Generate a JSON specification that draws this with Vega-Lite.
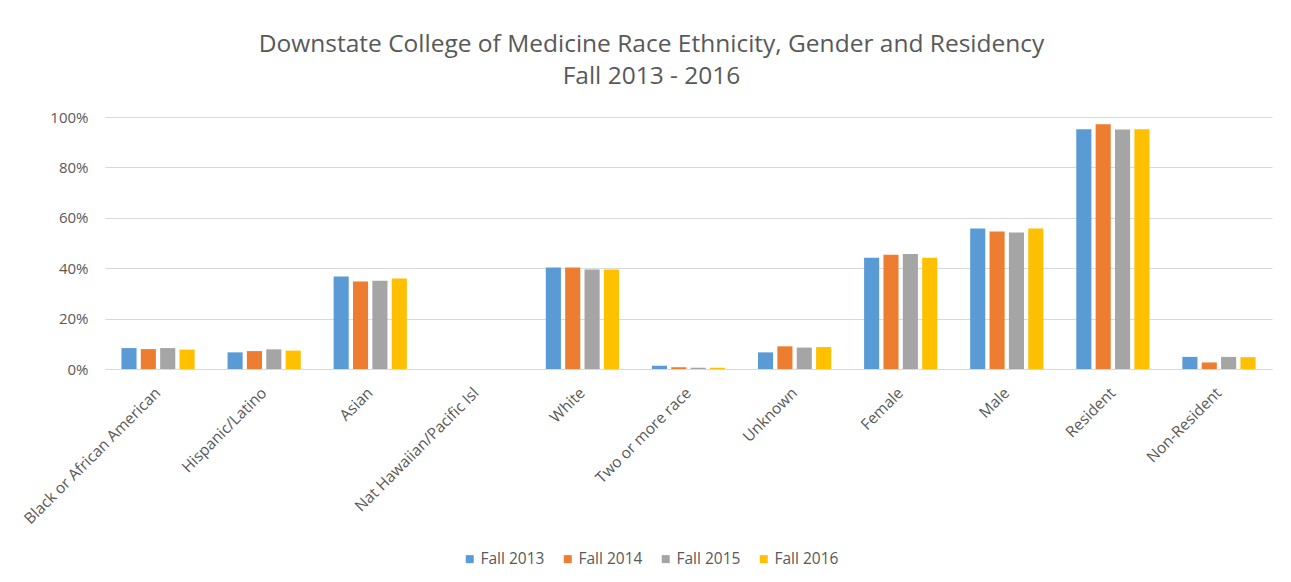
{
  "$schema": "https://vega.github.io/schema/vega-lite/v6.json",
  "width": 1167,
  "height": 252,
  "autosize": {"type": "none"},
  "padding": {"left": 105, "top": 117, "right": 19, "bottom": 213},
  "background": "white",
  "title": {
    "text": ["Downstate College of Medicine Race Ethnicity, Gender and Residency", "Fall 2013 - 2016"],
    "anchor": "middle",
    "frame": "group",
    "dx": -37,
    "fontSize": 24.5,
    "fontWeight": "normal",
    "font": "Open Sans",
    "color": "#595959",
    "lineHeight": 32,
    "offset": 21
  },
  "data": {
    "values": [
      {"category": "Black or African American", "year": "Fall 2013", "value": 0.083},
      {"category": "Black or African American", "year": "Fall 2014", "value": 0.079},
      {"category": "Black or African American", "year": "Fall 2015", "value": 0.083},
      {"category": "Black or African American", "year": "Fall 2016", "value": 0.077},
      {"category": "Hispanic/Latino", "year": "Fall 2013", "value": 0.066},
      {"category": "Hispanic/Latino", "year": "Fall 2014", "value": 0.071},
      {"category": "Hispanic/Latino", "year": "Fall 2015", "value": 0.078},
      {"category": "Hispanic/Latino", "year": "Fall 2016", "value": 0.073},
      {"category": "Asian", "year": "Fall 2013", "value": 0.367},
      {"category": "Asian", "year": "Fall 2014", "value": 0.347},
      {"category": "Asian", "year": "Fall 2015", "value": 0.350},
      {"category": "Asian", "year": "Fall 2016", "value": 0.359},
      {"category": "Nat Hawaiian/Pacific Isl", "year": "Fall 2013", "value": 0},
      {"category": "Nat Hawaiian/Pacific Isl", "year": "Fall 2014", "value": 0},
      {"category": "Nat Hawaiian/Pacific Isl", "year": "Fall 2015", "value": 0},
      {"category": "Nat Hawaiian/Pacific Isl", "year": "Fall 2016", "value": 0},
      {"category": "White", "year": "Fall 2013", "value": 0.403},
      {"category": "White", "year": "Fall 2014", "value": 0.403},
      {"category": "White", "year": "Fall 2015", "value": 0.395},
      {"category": "White", "year": "Fall 2016", "value": 0.395},
      {"category": "Two or more race", "year": "Fall 2013", "value": 0.013},
      {"category": "Two or more race", "year": "Fall 2014", "value": 0.007},
      {"category": "Two or more race", "year": "Fall 2015", "value": 0.005},
      {"category": "Two or more race", "year": "Fall 2016", "value": 0.005},
      {"category": "Unknown", "year": "Fall 2013", "value": 0.066},
      {"category": "Unknown", "year": "Fall 2014", "value": 0.090},
      {"category": "Unknown", "year": "Fall 2015", "value": 0.085},
      {"category": "Unknown", "year": "Fall 2016", "value": 0.087},
      {"category": "Female", "year": "Fall 2013", "value": 0.441},
      {"category": "Female", "year": "Fall 2014", "value": 0.453},
      {"category": "Female", "year": "Fall 2015", "value": 0.456},
      {"category": "Female", "year": "Fall 2016", "value": 0.441},
      {"category": "Male", "year": "Fall 2013", "value": 0.558},
      {"category": "Male", "year": "Fall 2014", "value": 0.546},
      {"category": "Male", "year": "Fall 2015", "value": 0.542},
      {"category": "Male", "year": "Fall 2016", "value": 0.558},
      {"category": "Resident", "year": "Fall 2013", "value": 0.951},
      {"category": "Resident", "year": "Fall 2014", "value": 0.971},
      {"category": "Resident", "year": "Fall 2015", "value": 0.950},
      {"category": "Resident", "year": "Fall 2016", "value": 0.951},
      {"category": "Non-Resident", "year": "Fall 2013", "value": 0.048},
      {"category": "Non-Resident", "year": "Fall 2014", "value": 0.026},
      {"category": "Non-Resident", "year": "Fall 2015", "value": 0.048},
      {"category": "Non-Resident", "year": "Fall 2016", "value": 0.047}
    ]
  },
  "mark": {"type": "bar"},
  "encoding": {
    "x": {
      "field": "category",
      "type": "nominal",
      "sort": null,
      "scale": {"paddingInner": 0.31, "paddingOuter": 0.155},
      "axis": {
        "title": null,
        "labelAngle": -45,
        "labelAlign": "right",
        "labelBaseline": "middle",
        "labelPadding": 21,
        "ticks": false,
        "domainColor": "#d9d9d9",
        "domainWidth": 1,
        "labelFont": "Open Sans",
        "labelFontSize": 15.5,
        "labelColor": "#595959",
        "labelLimit": 400,
        "grid": false
      }
    },
    "xOffset": {
      "field": "year",
      "type": "nominal",
      "scale": {"paddingInner": 0.22, "paddingOuter": 0}
    },
    "y": {
      "field": "value",
      "type": "quantitative",
      "scale": {"domain": [0, 1], "nice": false},
      "axis": {
        "title": null,
        "format": ".0%",
        "values": [0, 0.2, 0.4, 0.6, 0.8, 1],
        "domain": false,
        "ticks": false,
        "labelPadding": 17,
        "labelFont": "Open Sans",
        "labelFontSize": 15,
        "labelColor": "#595959",
        "gridColor": "#d9d9d9",
        "gridWidth": 1
      }
    },
    "color": {
      "field": "year",
      "type": "nominal",
      "scale": {
        "domain": ["Fall 2013", "Fall 2014", "Fall 2015", "Fall 2016"],
        "range": ["#5B9BD5", "#ED7D31", "#A5A5A5", "#FFC000"]
      },
      "legend": {
        "title": null,
        "orient": "none",
        "direction": "horizontal",
        "legendX": 357,
        "legendY": 434,
        "symbolType": "square",
        "symbolSize": 64,
        "symbolStrokeWidth": 0,
        "labelOffset": 3,
        "columnPadding": 15,
        "labelFont": "Open Sans",
        "labelFontSize": 15.5,
        "labelColor": "#595959",
        "padding": 0
      }
    }
  },
  "config": {
    "view": {"stroke": null}
  }
}
